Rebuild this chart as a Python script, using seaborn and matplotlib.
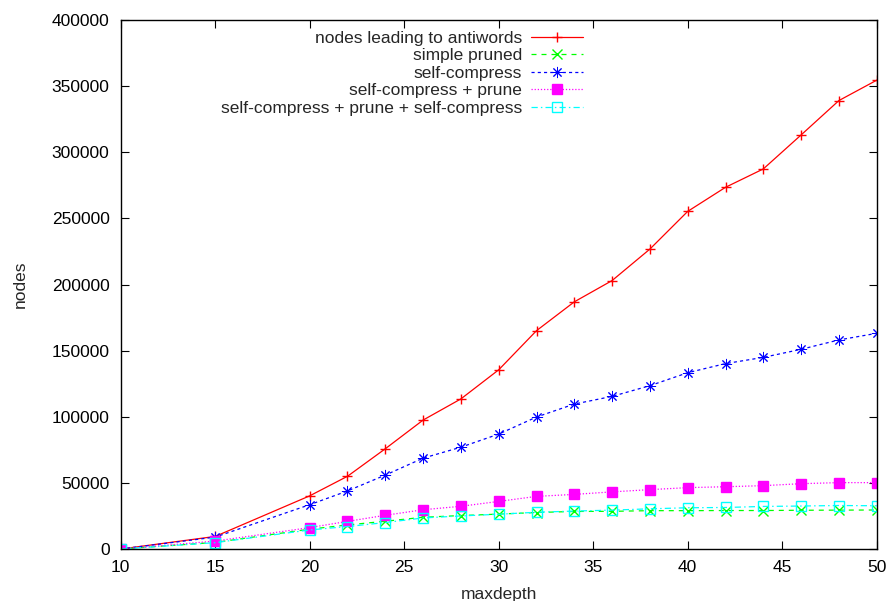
import matplotlib
matplotlib.use("Agg")
import matplotlib.pyplot as plt
import seaborn as sns
import pandas as pd

# Tree size versus maximum depth for each construction strategy
maxdepth = [10, 15, 20, 22, 24, 26, 28, 30, 32, 34, 36, 38, 40, 42, 44, 46, 48, 50]

antiwords = [0, 9500, 40200, 55000, 75800, 97500, 113500, 135500, 165100, 186900,
             203000, 226800, 255300, 273500, 287400, 313100, 339100, 354500]
simple_pruned = [0, 5000, 15000, 18200, 21000, 24000, 25300, 26400, 27600, 28400,
                 28500, 29000, 29000, 29100, 29100, 29300, 29400, 29500]
self_compress = [0, 9000, 33500, 43900, 55900, 68700, 77000, 86900, 99800, 109600,
                 115400, 123500, 133300, 140200, 144900, 151000, 158100, 163100]
compress_prune = [0, 6000, 16200, 20900, 25500, 29700, 32300, 36000, 39800, 41300,
                  43200, 44900, 46400, 47100, 47900, 49400, 50200, 50200]
compress_prune_compress = [0, 4800, 14400, 17000, 20000, 23500, 25000, 26300, 27800, 28700,
                           29400, 30400, 31200, 31400, 32200, 32500, 32900, 32700]

labels = [
    "nodes leading to antiwords",
    "simple pruned",
    "self-compress",
    "self-compress + prune",
    "self-compress + prune + self-compress",
]
series = [antiwords, simple_pruned, self_compress, compress_prune, compress_prune_compress]

x_ticks = [10, 15, 20, 25, 30, 35, 40, 45, 50]
y_ticks = [0, 50000, 100000, 150000, 200000, 250000, 300000, 350000, 400000]

colors = ["#ff0000", "#00ff00", "#0000ff", "#ff00ff", "#00ffff"]
linestyles = ["-", (0, (4, 4)), (0, (2.5, 2.5)), (0, (1, 1.5)), (0, (5, 2.5, 1.2, 2.5))]
markers = ["+", "x", (8, 2, 0), "s", "s"]
marker_sizes = [7, 6.5, 8, 6.5, 6.5]
edge_widths = [1.0, 1.0, 0.7, 1.0, 1.0]
facecolors = [None, None, None, "#ff00ff", "none"]

sns.set_style("ticks")
plt.rcParams["font.family"] = ["Liberation Sans", "DejaVu Sans"]
plt.rcParams["font.size"] = 12.5

fig = plt.figure(figsize=(8.88, 6.01), dpi=100)
ax = fig.add_axes([0.1359, 0.0865, 0.8514, 0.8802])

for values, label, color, ls, mk, ms, mw, fc in zip(series, labels, colors, linestyles,
                                                    markers, marker_sizes, edge_widths, facecolors):
    df = pd.DataFrame({"maxdepth": maxdepth, "nodes": values})
    kws = dict(mec=color, mew=mw)
    if fc is not None:
        kws["mfc"] = fc
    sns.lineplot(data=df, x="maxdepth", y="nodes", ax=ax, color=color, linestyle=ls,
                 linewidth=0.9, marker=mk, markersize=ms, label=label, legend=False, **kws)

ax.set_xlim(10, 50)
ax.set_ylim(0, 400000)
ax.set_xticks(x_ticks)
ax.set_yticks(y_ticks)
ax.ticklabel_format(style="plain", useOffset=False)
ax.tick_params(direction="in", length=5.5, width=0.8, top=True, right=True,
               labelsize=12.5, pad=8, colors="black")
for sp in ax.spines.values():
    sp.set_linewidth(1.0)
    sp.set_color("black")

ax.set_xlabel("maxdepth", fontsize=12.5)
ax.set_ylabel("nodes", fontsize=12.5)
ax.xaxis.set_label_coords(0.5, -0.072)
ax.yaxis.set_label_coords(-0.123, 0.5)

leg = ax.legend(loc="upper right", bbox_to_anchor=(0.6115, 0.980), frameon=False,
                markerfirst=False, handlelength=3.0, handletextpad=0.5,
                labelspacing=0.14, borderpad=0, borderaxespad=0, numpoints=1,
                fontsize=12.5)

fig.savefig("out.png", dpi=100)
